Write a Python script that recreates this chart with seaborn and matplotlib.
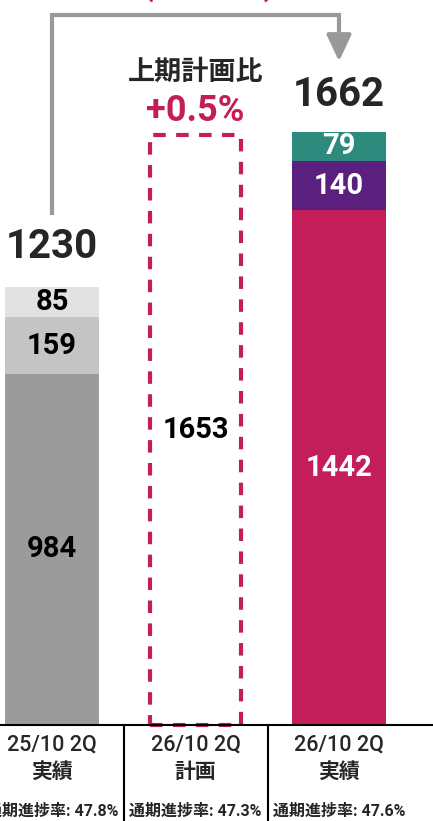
import matplotlib
matplotlib.use('Agg')
import matplotlib.pyplot as plt
import seaborn as sns
import pandas as pd

# data
cats = ['25/10 2Q\n実績', '26/10 2Q\n計画', '26/10 2Q\n実績']
rates = ['通期進捗率: 47.8%', '通期進捗率: 47.3%', '通期進捗率: 47.6%']
totals = [1230, 1653, 1662]
seg_bottom = [984, 1442]      # bar 1, bar 3
seg_mid = [159, 140]
seg_top = [85, 79]
plan = 1653
plan_ratio = '+0.5%'
yoy_text = '(+35.1%)'

colors_bottom = ['#9b9b9b', '#c41e5a']
colors_mid = ['#c4c4c4', '#5b1f7e']
colors_top = ['#e1e1e1', '#2e8a7c']
pink = '#c41e5a'

sns.set_style('white')
plt.rcParams['font.family'] = ['Roboto', 'Noto Sans CJK JP', 'DejaVu Sans']

fig = plt.figure(figsize=(4.33, 8.21), dpi=100)
ax = fig.add_axes([0, 0, 1, 1])

px_x = 143.5
px_y = 0.3568
width = 94 / px_x

real = [cats[0], cats[2]]
layers = [
    ([b + m + t for b, m, t in zip(seg_bottom, seg_mid, seg_top)], colors_top),
    ([b + m for b, m in zip(seg_bottom, seg_mid)], colors_mid),
    (seg_bottom, colors_bottom),
]
for vals, cols in layers:
    df = pd.DataFrame({'cat': real, 'v': vals})
    sns.barplot(data=df, x='cat', y='v', hue='cat', order=cats,
                palette=dict(zip(real, cols)), width=width, legend=False,
                ax=ax, linewidth=0, saturation=1)

# plan bar (dashed outline)
ax.bar(1, plan, width=width - 0.02, fill=False, edgecolor=pink, linewidth=3,
       linestyle=(0, (3, 2.5)))

ax.set_xlim(-52 / px_x, (433 - 52) / px_x)
ax.set_ylim(-96 / px_y, 725 / px_y)
ax.axis('off')

# segment labels
xs = [0, 2]
for i, x in enumerate(xs):
    b, m, t = seg_bottom[i], seg_mid[i], seg_top[i]
    c = 'black' if i == 0 else 'white'
    ax.text(x, b / 2, str(b), ha='center', va='center', fontsize=21,
            fontweight='bold', color=c)
    ax.text(x, b + m / 2, str(m), ha='center', va='center', fontsize=21,
            fontweight='bold', color=c)
    ax.text(x, b + m + t / 2, str(t), ha='center', va='center', fontsize=21,
            fontweight='bold', color=c)
ax.text(1, plan / 2, str(plan), ha='center', va='center', fontsize=21,
        fontweight='bold', color='black')

# totals
ax.text(0, totals[0] + 110, str(totals[0]), ha='center', va='center',
        fontsize=29, fontweight='bold')
ax.text(2, totals[2] + 105, str(totals[2]), ha='center', va='center',
        fontsize=29, fontweight='bold')

ax.text(1, 1830, '上期計画比', ha='center', va='center', fontsize=19.5,
        fontweight='bold')
ax.text(1, 1722, plan_ratio, ha='center', va='center', fontsize=26,
        fontweight='bold', color=pink)
ax.text(1.09, 2025, yoy_text, ha='center', va='bottom', fontsize=24,
        fontweight='bold', color=pink, clip_on=False)

# arrow
ay = 1990
ax.plot([0, 0, 2, 2], [1430, ay, ay, 1900], color='#999999', lw=3,
        solid_joinstyle='miter', solid_capstyle='butt')
ax.annotate('', xy=(2, 1860), xytext=(2, 1915),
            arrowprops=dict(arrowstyle='-|>,head_length=1.6,head_width=0.75',
                            color='#999999', lw=3, shrinkA=0, shrinkB=0))

# baseline and separators
ax.plot([-1, 3], [0, 0], color='black', lw=1.5, clip_on=False)
for sx in [0.502, 1.505]:
    ax.plot([sx, sx], [0, -300], color='black', lw=1.5)

for i, c in enumerate(cats):
    top, bot = c.split('\n')
    ax.text(i, -56, top, ha='center', va='center', fontsize=15.5,
            fontweight='medium')
    ax.text(i, -132, bot, ha='center', va='center', fontsize=15,
            fontweight='bold')
    ax.text(i, -241, rates[i], ha='center', va='center', fontsize=11.5,
            fontweight='bold')

fig.savefig('out.png', dpi=100)
